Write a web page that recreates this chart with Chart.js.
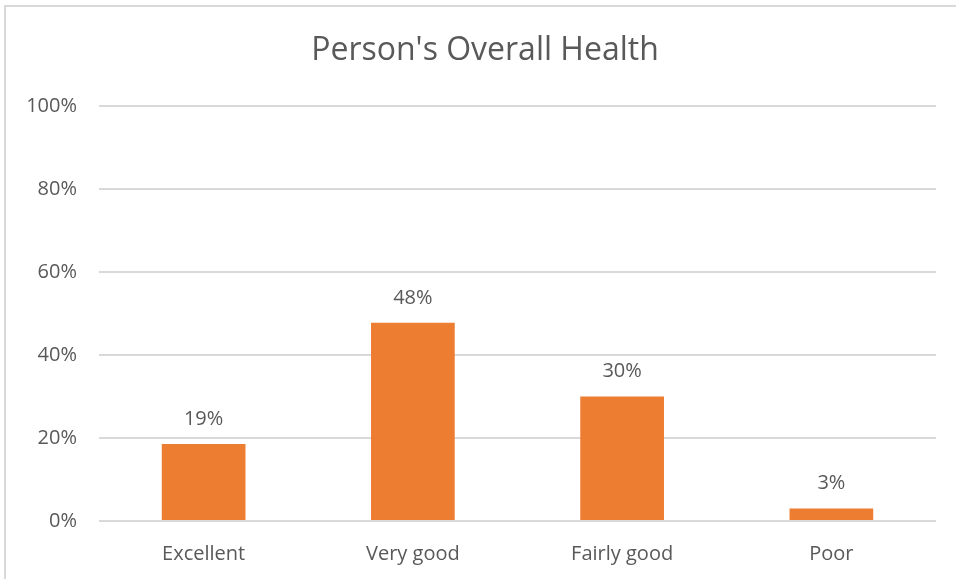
<!DOCTYPE html>
<html>
<head>
<meta charset="utf-8">
<script src="https://cdn.jsdelivr.net/npm/chart.js@4/dist/chart.umd.min.js"></script>
<style>
  html, body { margin: 0; padding: 0; background: #fff; overflow: hidden; }
  #box { position: absolute; left: 4px; top: 5px; width: 960px; height: 600px; border: 2px solid #d9d9d9; }
  #c { display: block; }
</style>
</head>
<body>
<div id="box"><canvas id="c" width="960" height="600"></canvas></div>
<script>
// chart data
var categories = ["Excellent", "Very good", "Fairly good", "Poor"];
var healthValues = [18.6, 47.8, 30.0, 3.0];
var valueLabels = ["19%", "48%", "30%", "3%"];
var yTicks = [0, 20, 40, 60, 80, 100];

var textColor = "#595959";
var fontFam = "'Open Sans', 'Noto Sans', sans-serif";

// labels above the bars, white box behind like excel does
var barLabels = {
  id: "barLabels",
  beforeDraw: function(chart) {
    // y labels are wider than the fixed axis box, dont clip them
    chart.scales.y._computeLabelArea = function() { return undefined; };
  },
  afterDatasetsDraw: function(chart) {
    var ctx = chart.ctx;
    var meta = chart.getDatasetMeta(0);
    ctx.save();
    ctx.font = "20px " + fontFam;
    ctx.textAlign = "center";
    ctx.textBaseline = "middle";
    meta.data.forEach(function(bar, i) {
      var txt = valueLabels[i];
      var w = ctx.measureText(txt).width + 14;
      var cy = bar.y - 25;
      ctx.fillStyle = "#ffffff";
      ctx.fillRect(bar.x - w / 2, cy - 14, w, 28);
      ctx.fillStyle = textColor;
      ctx.fillText(txt, bar.x, cy);
    });
    ctx.restore();
  }
};

new Chart(document.getElementById("c"), {
  type: "bar",
  data: {
    labels: categories,
    datasets: [{
      data: healthValues,
      backgroundColor: "#ED7D31",
      borderWidth: 0,
      barPercentage: 0.4,
      categoryPercentage: 1
    }]
  },
  options: {
    responsive: false,
    animation: false,
    layout: { padding: { left: 28, right: 30, top: 0, bottom: 36 } },
    plugins: {
      legend: { display: false },
      tooltip: { enabled: false },
      title: {
        display: true,
        text: "Person's Overall Health",
        color: textColor,
        font: { family: fontFam, size: 32, weight: "normal" },
        padding: { top: 25, bottom: 36 }
      }
    },
    scales: {
      x: {
        grid: { display: false },
        border: { display: false },
        ticks: { color: textColor, font: { family: fontFam, size: 20 }, padding: 13 },
        afterFit: function(s) { s.height = 50; }
      },
      y: {
        min: 0,
        max: 100,
        afterBuildTicks: function(s) { s.ticks = yTicks.map(function(v) { return { value: v }; }); },
        grid: { color: "#d9d9d9", lineWidth: 2, drawTicks: false },
        border: { display: false },
        ticks: {
          color: textColor,
          font: { family: fontFam, size: 20 },
          padding: 22,
          callback: function(v) { return v + "%"; }
        },
        afterFit: function(s) { s.width = 65; }
      }
    }
  },
  plugins: [barLabels]
});
</script>
</body>
</html>
